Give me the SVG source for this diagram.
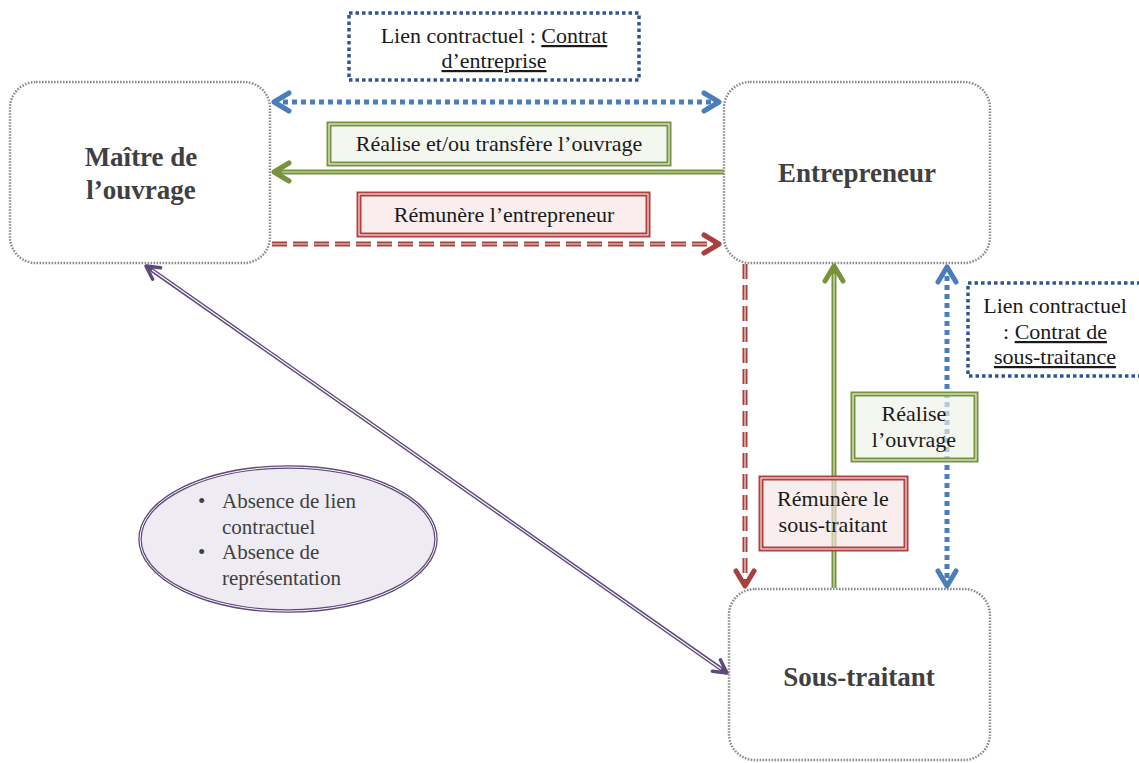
<svg xmlns="http://www.w3.org/2000/svg" width="1139" height="763" viewBox="0 0 1139 763">
<style>
.node{fill:#fff;stroke:#8c8c8c;stroke-width:2.5;stroke-dasharray:1.6 1.4}
.nlabel{font-family:"Liberation Serif",serif;font-weight:bold;font-size:27px;fill:#404040;text-anchor:middle}
.t{font-family:"Liberation Serif",serif;font-size:22px;fill:#1a1a1a;text-anchor:middle}
.e{font-family:"Liberation Serif",serif;font-size:21px;fill:#404040}
.cbox{fill:#fff;stroke:#2F5597;stroke-width:3.5;stroke-dasharray:3.5 3}
.gbox{fill:#EEF3E6;fill-opacity:0.65;stroke:#77933C;stroke-width:5}
.gin{fill:none;stroke:#fff;stroke-width:1}
.rbox{fill:#F6E4E3;fill-opacity:0.65;stroke:#B0413E;stroke-width:5}
.rin{fill:none;stroke:#fff;stroke-width:1}
.blue{fill:none;stroke:#4A7EBB;stroke-width:5;stroke-dasharray:5 4}
.green{fill:none;stroke:#77933C;stroke-width:5}
.greenc{fill:none;stroke:#D7E4BD;stroke-width:1.2}
.red{fill:none;stroke:#A9403D;stroke-width:5;stroke-dasharray:15 6}
.redc{fill:none;stroke:#F2DCDB;stroke-width:1.2;stroke-dasharray:15 6}
.purple{fill:none;stroke:#5F497A;stroke-width:4}
.purplec{fill:none;stroke:#fff;stroke-width:1.2}
</style>
<defs>
<marker id="mb" markerUnits="userSpaceOnUse" markerWidth="24" markerHeight="26" viewBox="0 0 24 26" refX="21" refY="13" orient="auto-start-reverse"><path d="M6,4 L21,13 L6,22" fill="none" stroke="#4A7EBB" stroke-width="5" stroke-linecap="round" stroke-linejoin="round"/></marker>
<marker id="mg" markerUnits="userSpaceOnUse" markerWidth="24" markerHeight="26" viewBox="0 0 24 26" refX="21" refY="13" orient="auto-start-reverse"><path d="M6,4 L21,13 L6,22" fill="none" stroke="#77933C" stroke-width="5" stroke-linecap="round" stroke-linejoin="round"/></marker>
<marker id="mr" markerUnits="userSpaceOnUse" markerWidth="24" markerHeight="26" viewBox="0 0 24 26" refX="21" refY="13" orient="auto-start-reverse"><path d="M6,4 L21,13 L6,22" fill="none" stroke="#A9403D" stroke-width="5" stroke-linecap="round" stroke-linejoin="round"/></marker>
<marker id="mp" markerUnits="userSpaceOnUse" markerWidth="22" markerHeight="22" viewBox="0 0 22 22" refX="19" refY="11" orient="auto-start-reverse"><path d="M6,4 L19,11 L6,18" fill="none" stroke="#5F497A" stroke-width="3.5" stroke-linecap="round" stroke-linejoin="round"/></marker>
</defs>

<g id="maitre">
<rect class="node" x="10" y="82" width="260" height="181" rx="26"/>
<text class="nlabel" x="141" y="166">Maître de</text>
<text class="nlabel" x="141" y="199">l’ouvrage</text>
</g>
<g id="entrepreneur">
<rect class="node" x="724" y="82" width="266" height="181" rx="26"/>
<text class="nlabel" x="857" y="182">Entrepreneur</text>
</g>
<g id="soustraitant">
<rect class="node" x="729" y="589" width="261" height="171" rx="26"/>
<text class="nlabel" x="859" y="686">Sous-traitant</text>
</g>

<g id="connectors">
<line class="blue" x1="274" y1="102" x2="719" y2="102" marker-start="url(#mb)" marker-end="url(#mb)"/>
<line class="green" x1="724" y1="172" x2="274" y2="172" marker-end="url(#mg)"/>
<line class="greenc" x1="724" y1="172" x2="282" y2="172"/>
<line class="red" x1="272" y1="244" x2="719" y2="244" marker-end="url(#mr)"/>
<line class="redc" x1="272" y1="244" x2="712" y2="244"/>
<line class="red" x1="745" y1="264" x2="745" y2="586" marker-end="url(#mr)"/>
<line class="redc" x1="745" y1="264" x2="745" y2="578"/>
<line class="green" x1="834" y1="588" x2="834" y2="266" marker-end="url(#mg)"/>
<line class="greenc" x1="834" y1="588" x2="834" y2="274"/>
<line class="blue" x1="947" y1="267" x2="947" y2="586" marker-start="url(#mb)" marker-end="url(#mb)"/>
<line class="purple" x1="146" y1="266" x2="727" y2="673" marker-start="url(#mp)" marker-end="url(#mp)"/>
<line class="purplec" x1="152" y1="270" x2="721" y2="669"/>
</g>

<g id="contrat-entreprise">
<rect class="cbox" x="349" y="13" width="290" height="67"/>
<text class="t" x="494" y="43">Lien contractuel : <tspan text-decoration="underline">Contrat</tspan></text>
<text class="t" x="494" y="68" text-decoration="underline">d’entreprise</text>
</g>
<g id="realise-transfere">
<rect class="gbox" x="329" y="124" width="340" height="40"/>
<rect class="gin" x="329" y="124" width="340" height="40"/>
<text class="t" x="499" y="151">Réalise et/ou transfère l’ouvrage</text>
</g>
<g id="remunere-entrepreneur">
<rect class="rbox" x="359" y="194" width="289" height="41"/>
<rect class="rin" x="359" y="194" width="289" height="41"/>
<text class="t" x="504" y="222">Rémunère l’entrepreneur</text>
</g>
<g id="contrat-sous-traitance">
<rect class="cbox" x="968" y="283" width="180" height="93"/>
<text class="t" x="1055" y="313">Lien contractuel</text>
<text class="t" x="1055" y="339">: <tspan text-decoration="underline">Contrat de</tspan></text>
<text class="t" x="1055" y="364" text-decoration="underline">sous-traitance</text>
</g>
<g id="realise-ouvrage">
<rect class="gbox" x="853" y="394" width="123" height="66"/>
<rect class="gin" x="853" y="394" width="123" height="66"/>
<text class="t" x="914" y="421">Réalise</text>
<text class="t" x="914" y="447">l’ouvrage</text>
</g>
<g id="remunere-sous-traitant">
<rect class="rbox" x="761" y="478" width="145" height="71"/>
<rect class="rin" x="761" y="478" width="145" height="71"/>
<text class="t" x="833" y="506">Rémunère le</text>
<text class="t" x="833" y="532">sous-traitant</text>
</g>
<g id="absence">
<ellipse cx="288" cy="539" rx="148" ry="72" fill="#EFEBF2" stroke="#5F497A" stroke-width="3.5"/>
<ellipse cx="288" cy="539" rx="148" ry="72" fill="none" stroke="#fff" stroke-width="1"/>
<text class="e" x="198" y="508">•</text>
<text class="e" x="222" y="508">Absence de lien</text>
<text class="e" x="222" y="534">contractuel</text>
<text class="e" x="198" y="559">•</text>
<text class="e" x="222" y="559">Absence de</text>
<text class="e" x="222" y="585">représentation</text>
</g>
</svg>
